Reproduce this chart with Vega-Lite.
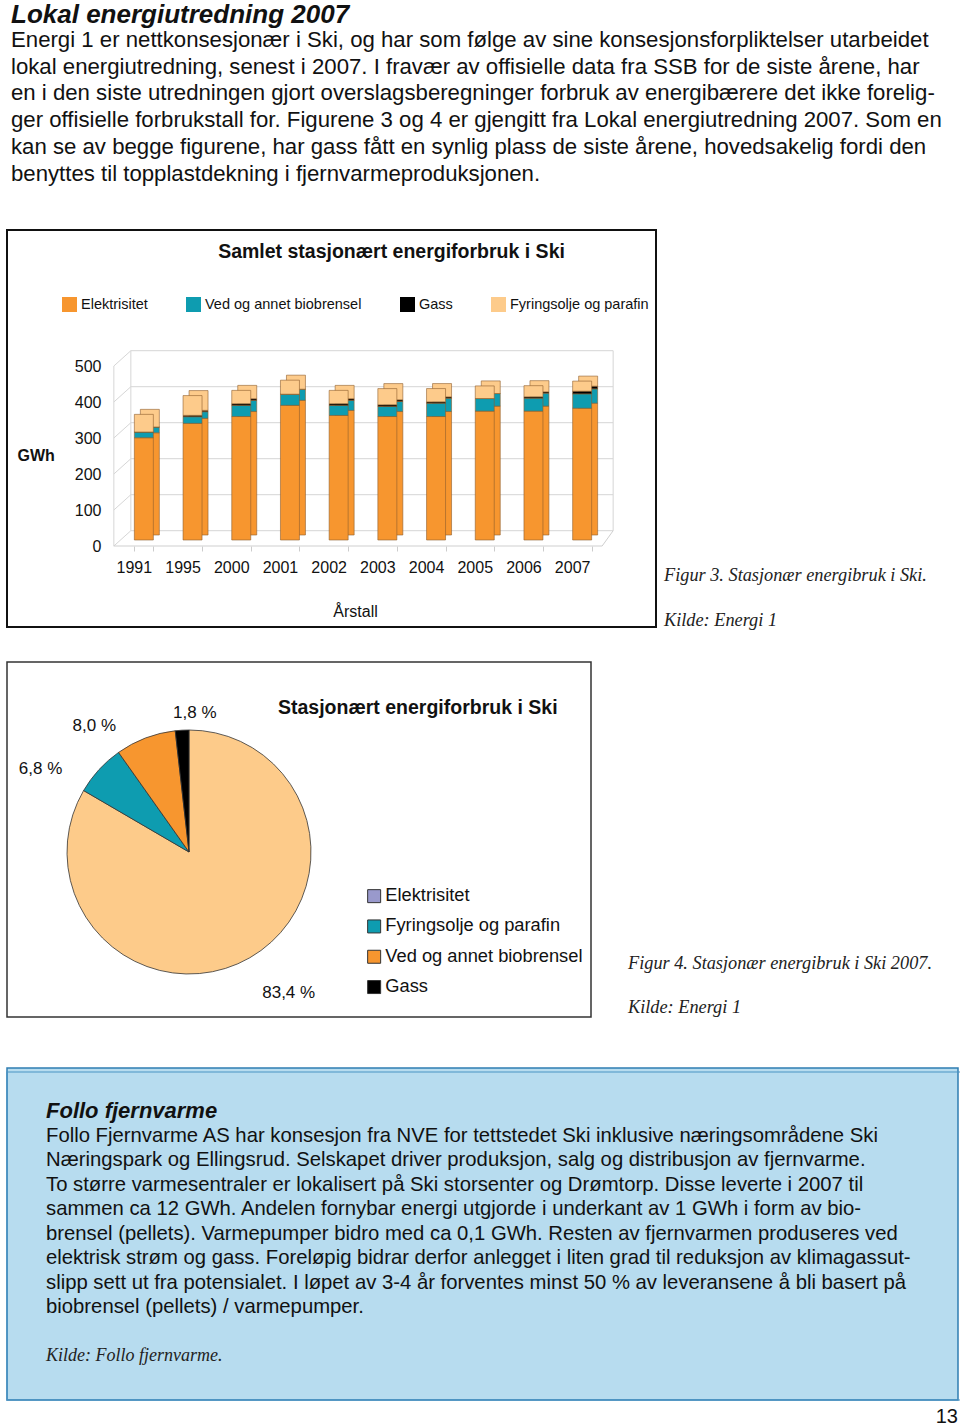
{
  "$schema": "https://vega.github.io/schema/vega-lite/v6.json",
  "background": "white",
  "padding": {"left": 5, "top": 1, "right": 0, "bottom": 0},
  "config": {"view": {"stroke": null}, "font": "Liberation Sans"},
  "resolve": {"scale": {"color": "independent", "fill": "independent"}, "legend": {"color": "independent", "fill": "independent"}},
  "title": {
    "text": "Lokal energiutredning 2007",
    "subtitle": [
      "Energi 1 er nettkonsesjonær i Ski, og har som følge av sine konsesjonsforpliktelser utarbeidet",
      "lokal energiutredning, senest i 2007. I fravær av offisielle data fra SSB for de siste årene, har",
      "en i den siste utredningen gjort overslagsberegninger forbruk av energibærere det ikke forelig-",
      "ger offisielle forbrukstall for. Figurene 3 og 4 er gjengitt fra Lokal energiutredning 2007. Som en",
      "kan se av begge figurene, har gass fått en synlig plass de siste årene, hovedsakelig fordi den",
      "benyttes til topplastdekning i fjernvarmeproduksjonen."
    ],
    "anchor": "start", "frame": "group", "dx": 4, "offset": 44,
    "font": "Liberation Sans", "fontSize": 26, "fontStyle": "italic", "fontWeight": "bold", "color": "#111",
    "subtitleFont": "Liberation Sans", "subtitleFontSize": 22.2, "subtitleColor": "#111",
    "subtitleLineHeight": 26.8, "subtitlePadding": 1
  },
  "datasets": {
    "energy": [
      {"year": "1991", "cat": "Elektrisitet", "k": 1, "v": 284},
      {"year": "1991", "cat": "Ved og annet biobrensel", "k": 2, "v": 16},
      {"year": "1991", "cat": "Gass", "k": 3, "v": 0},
      {"year": "1991", "cat": "Fyringsolje og parafin", "k": 4, "v": 49},
      {"year": "1995", "cat": "Elektrisitet", "k": 1, "v": 324},
      {"year": "1995", "cat": "Ved og annet biobrensel", "k": 2, "v": 18.5},
      {"year": "1995", "cat": "Gass", "k": 3, "v": 3.7},
      {"year": "1995", "cat": "Fyringsolje og parafin", "k": 4, "v": 55},
      {"year": "2000", "cat": "Elektrisitet", "k": 1, "v": 343},
      {"year": "2000", "cat": "Ved og annet biobrensel", "k": 2, "v": 31},
      {"year": "2000", "cat": "Gass", "k": 3, "v": 4.6},
      {"year": "2000", "cat": "Fyringsolje og parafin", "k": 4, "v": 37},
      {"year": "2001", "cat": "Elektrisitet", "k": 1, "v": 374},
      {"year": "2001", "cat": "Ved og annet biobrensel", "k": 2, "v": 31},
      {"year": "2001", "cat": "Gass", "k": 3, "v": 0},
      {"year": "2001", "cat": "Fyringsolje og parafin", "k": 4, "v": 39},
      {"year": "2002", "cat": "Elektrisitet", "k": 1, "v": 346},
      {"year": "2002", "cat": "Ved og annet biobrensel", "k": 2, "v": 28},
      {"year": "2002", "cat": "Gass", "k": 3, "v": 4.6},
      {"year": "2002", "cat": "Fyringsolje og parafin", "k": 4, "v": 37},
      {"year": "2003", "cat": "Elektrisitet", "k": 1, "v": 343},
      {"year": "2003", "cat": "Ved og annet biobrensel", "k": 2, "v": 28},
      {"year": "2003", "cat": "Gass", "k": 3, "v": 4.6},
      {"year": "2003", "cat": "Fyringsolje og parafin", "k": 4, "v": 45},
      {"year": "2004", "cat": "Elektrisitet", "k": 1, "v": 343},
      {"year": "2004", "cat": "Ved og annet biobrensel", "k": 2, "v": 37},
      {"year": "2004", "cat": "Gass", "k": 3, "v": 3.7},
      {"year": "2004", "cat": "Fyringsolje og parafin", "k": 4, "v": 37},
      {"year": "2005", "cat": "Elektrisitet", "k": 1, "v": 358},
      {"year": "2005", "cat": "Ved og annet biobrensel", "k": 2, "v": 35},
      {"year": "2005", "cat": "Gass", "k": 3, "v": 0},
      {"year": "2005", "cat": "Fyringsolje og parafin", "k": 4, "v": 35},
      {"year": "2006", "cat": "Elektrisitet", "k": 1, "v": 358},
      {"year": "2006", "cat": "Ved og annet biobrensel", "k": 2, "v": 36},
      {"year": "2006", "cat": "Gass", "k": 3, "v": 3.7},
      {"year": "2006", "cat": "Fyringsolje og parafin", "k": 4, "v": 31},
      {"year": "2007", "cat": "Elektrisitet", "k": 1, "v": 366},
      {"year": "2007", "cat": "Ved og annet biobrensel", "k": 2, "v": 40},
      {"year": "2007", "cat": "Gass", "k": 3, "v": 7.4},
      {"year": "2007", "cat": "Fyringsolje og parafin", "k": 4, "v": 28}
    ],
    "ticks": [{"v": 0}, {"v": 100}, {"v": 200}, {"v": 300}, {"v": 400}, {"v": 500}],
    "one": [{"n": 1}],
    "pie": [
      {"cat": "Elektrisitet", "pct": 83.4, "k": 1, "label": "83,4 %"},
      {"cat": "Fyringsolje og parafin", "pct": 6.8, "k": 2, "label": "6,8 %"},
      {"cat": "Ved og annet biobrensel", "pct": 8.0, "k": 3, "label": "8,0 %"},
      {"cat": "Gass", "pct": 1.8, "k": 4, "label": "1,8 %"}
    ],
    "pieLegend": [
      {"category": "Elektrisitet"},
      {"category": "Fyringsolje og parafin"},
      {"category": "Ved og annet biobrensel"},
      {"category": "Gass"}
    ]
  },
  "spacing": 31,
  "vconcat": [
    {
      "spacing": 7,
      "hconcat": [
        {
          "width": 649, "height": 397,
          "view": {"stroke": "#111", "strokeWidth": 2},
          "title": {"text": "Samlet stasjonært energiforbruk i Ski", "anchor": "middle", "frame": "group", "dx": 60, "offset": -32,
                    "fontSize": 19.5, "fontWeight": "bold", "font": "Liberation Sans", "color": "#111"},
          "resolve": {"axis": {"x": "independent", "y": "independent"}},
          "layer": [
            {"data": {"name": "energy"},
             "mark": {"type": "bar", "stroke": "#8e5e2e", "strokeWidth": 0.6, "opacity": 0},
             "encoding": {
               "x": {"field": "year", "type": "nominal",
                     "scale": {"range": [112.5, 599.5], "paddingInner": 0.61, "paddingOuter": 0.305},
                     "axis": {"orient": "bottom", "offset": -81, "title": "Årstall", "labelAngle": 0, "labelOffset": -10,
                              "labelFontSize": 16, "labelFont": "Liberation Sans", "labelColor": "#111", "labelPadding": 8,
                              "domain": false, "ticks": true, "tickBand": "extent", "tickSize": 5, "tickColor": "#cccccc", "tickOffset": -5,
                              "titleFontSize": 16, "titleFont": "Liberation Sans", "titleFontWeight": "normal", "titleColor": "#111",
                              "titlePadding": 28, "titleX": 348, "grid": false}},
               "y": {"field": "v", "type": "quantitative", "stack": "zero",
                     "scale": {"domain": [0, 500], "range": [310, 130], "nice": false},
                     "axis": {"orient": "left", "offset": -107, "values": [0, 100, 200, 300, 400, 500], "labelOffset": 6,
                              "ticks": false, "domain": false, "grid": false, "labelPadding": 13,
                              "labelFontSize": 16, "labelFont": "Liberation Sans", "labelColor": "#111",
                              "title": "GWh", "titleAngle": 0, "titleFontSize": 16, "titleFontWeight": "bold", "titleColor": "#111",
                              "titleX": -97, "titleY": 225, "titleAlign": "left", "titleBaseline": "middle"}},
               "color": {"field": "cat", "type": "nominal",
                         "scale": {"domain": ["Elektrisitet", "Ved og annet biobrensel", "Gass", "Fyringsolje og parafin"],
                                   "range": ["#F7962F", "#0E9CB0", "#000000", "#FDCB8B"]},
                         "legend": {"orient": "none", "legendX": 55, "legendY": 67, "direction": "horizontal", "title": null,
                                    "symbolType": "square", "symbolSize": 225, "symbolStrokeWidth": 0, "symbolOpacity": 1,
                                    "labelFontSize": 14.5, "labelFont": "Liberation Sans", "labelColor": "#111",
                                    "columnPadding": 38, "labelOffset": 4, "labelLimit": 300}},
               "order": {"field": "k", "type": "quantitative"}}},
            {"data": {"name": "ticks"},
             "mark": {"type": "rule", "color": "#d6d6d6", "strokeWidth": 1, "xOffset": -13, "x2Offset": 31, "yOffset": -9.3},
             "encoding": {"x": {"datum": "1991", "type": "nominal", "axis": null}, "x2": {"datum": "2007"},
                          "y": {"field": "v", "type": "quantitative", "axis": null}}},
            {"data": {"name": "ticks"},
             "mark": {"type": "rule", "color": "#d6d6d6", "strokeWidth": 1, "xOffset": -30, "x2Offset": -13, "yOffset": 6, "y2Offset": -9.3},
             "encoding": {"x": {"datum": "1991", "type": "nominal", "axis": null}, "x2": {"datum": "1991"},
                          "y": {"field": "v", "type": "quantitative", "axis": null}, "y2": {"field": "v"}}},
            {"data": {"name": "one"},
             "mark": {"type": "rule", "color": "#d6d6d6", "strokeWidth": 1, "xOffset": -30, "yOffset": 6, "y2Offset": 6},
             "encoding": {"x": {"datum": "1991", "type": "nominal", "axis": null},
                          "y": {"datum": 0, "type": "quantitative", "axis": null}, "y2": {"datum": 500}}},
            {"data": {"name": "one"},
             "mark": {"type": "rule", "color": "#d6d6d6", "strokeWidth": 1, "xOffset": -13, "yOffset": -9.3, "y2Offset": -9.3},
             "encoding": {"x": {"datum": "1991", "type": "nominal", "axis": null},
                          "y": {"datum": 0, "type": "quantitative", "axis": null}, "y2": {"datum": 500}}},
            {"data": {"name": "one"},
             "mark": {"type": "rule", "color": "#d6d6d6", "strokeWidth": 1, "xOffset": 31, "yOffset": -9.3, "y2Offset": -9.3},
             "encoding": {"x": {"datum": "2007", "type": "nominal", "axis": null},
                          "y": {"datum": 0, "type": "quantitative", "axis": null}, "y2": {"datum": 500}}},
            {"data": {"name": "one"},
             "mark": {"type": "rule", "color": "#cfcfcf", "strokeWidth": 1, "xOffset": -30, "x2Offset": 20, "yOffset": 6},
             "encoding": {"x": {"datum": "1991", "type": "nominal", "axis": null}, "x2": {"datum": "2007"},
                          "y": {"datum": 0, "type": "quantitative", "axis": null}}},
            {"data": {"name": "one"},
             "mark": {"type": "rule", "color": "#cfcfcf", "strokeWidth": 1, "xOffset": 20, "x2Offset": 31, "yOffset": 6, "y2Offset": -9.3},
             "encoding": {"x": {"datum": "2007", "type": "nominal", "axis": null}, "x2": {"datum": "2007"},
                          "y": {"datum": 0, "type": "quantitative", "axis": null}, "y2": {"datum": 0}}},
            {"data": {"name": "energy"},
             "mark": {"type": "bar", "xOffset": 6, "x2Offset": 6, "yOffset": -5, "y2Offset": -5, "stroke": "#8e5e2e", "strokeWidth": 0.6},
             "encoding": {
               "x": {"field": "year", "type": "nominal", "axis": null},
               "y": {"field": "v", "type": "quantitative", "stack": "zero", "axis": null},
               "color": {"field": "cat", "type": "nominal", "legend": null},
               "order": {"field": "k", "type": "quantitative"}}},
            {"data": {"name": "energy"},
             "mark": {"type": "bar", "stroke": "#8e5e2e", "strokeWidth": 0.6},
             "encoding": {
               "x": {"field": "year", "type": "nominal", "axis": null},
               "y": {"field": "v", "type": "quantitative", "stack": "zero", "axis": null},
               "color": {"field": "cat", "type": "nominal", "legend": null},
               "order": {"field": "k", "type": "quantitative"}}}
          ]
        },
        {
          "width": 295, "height": 397,
          "data": {"values": [{"line": 0, "t": "Figur 3. Stasjonær energibruk i Ski."}, {"line": 1, "t": "Kilde: Energi 1"}]},
          "mark": {"type": "text", "align": "left", "baseline": "middle", "font": "Liberation Serif", "fontStyle": "italic", "fontSize": 18.3, "color": "#222"},
          "encoding": {
            "x": {"datum": 0, "type": "quantitative", "scale": {"domain": [0, 1]}, "axis": null},
            "y": {"field": "line", "type": "quantitative", "scale": {"domain": [0, 1], "range": [346, 391]}, "axis": null},
            "text": {"field": "t"}}
        }
      ]
    },
    {
      "spacing": 36,
      "hconcat": [
        {
          "width": 584, "height": 355,
          "view": {"stroke": "#333", "strokeWidth": 1.5},
          "title": {"text": "Stasjonært energiforbruk i Ski", "anchor": "start", "frame": "group", "dx": 271, "offset": -56,
                    "fontSize": 19.5, "fontWeight": "bold", "color": "#111", "font": "Liberation Sans"},
          "layer": [
            {"data": {"name": "pie"},
             "mark": {"type": "arc", "radius": 122, "xOffset": -110, "yOffset": 12.5, "stroke": "#333", "strokeWidth": 0.8},
             "encoding": {
               "theta": {"field": "pct", "type": "quantitative", "stack": true},
               "color": {"field": "cat", "type": "nominal",
                         "scale": {"domain": ["Elektrisitet", "Fyringsolje og parafin", "Ved og annet biobrensel", "Gass"],
                                   "range": ["#FDCB8A", "#0E9CB0", "#F7962F", "#000000"]},
                         "legend": null},
               "order": {"field": "k", "type": "quantitative"}}},
            {"data": {"name": "pie"},
             "mark": {"type": "text", "radius": 162, "xOffset": -110, "yOffset": 12.5, "dx": 19, "dy": 1, "fontSize": 17, "font": "Liberation Sans", "color": "#111"},
             "encoding": {
               "theta": {"field": "pct", "type": "quantitative", "stack": true},
               "detail": {"field": "cat", "type": "nominal"},
               "order": {"field": "k", "type": "quantitative"},
               "text": {"condition": {"test": "datum.k === 1", "field": "label"}, "value": ""}}},
            {"data": {"name": "pie"},
             "mark": {"type": "text", "radius": 162, "xOffset": -110, "yOffset": 12.5, "dx": -29, "dy": 26, "fontSize": 17, "font": "Liberation Sans", "color": "#111"},
             "encoding": {
               "theta": {"field": "pct", "type": "quantitative", "stack": true},
               "detail": {"field": "cat", "type": "nominal"},
               "order": {"field": "k", "type": "quantitative"},
               "text": {"condition": {"test": "datum.k === 2", "field": "label"}, "value": ""}}},
            {"data": {"name": "pie"},
             "mark": {"type": "text", "radius": 162, "xOffset": -110, "yOffset": 12.5, "dx": -37, "dy": 25, "fontSize": 17, "font": "Liberation Sans", "color": "#111"},
             "encoding": {
               "theta": {"field": "pct", "type": "quantitative", "stack": true},
               "detail": {"field": "cat", "type": "nominal"},
               "order": {"field": "k", "type": "quantitative"},
               "text": {"condition": {"test": "datum.k === 3", "field": "label"}, "value": ""}}},
            {"data": {"name": "pie"},
             "mark": {"type": "text", "radius": 162, "xOffset": -110, "yOffset": 12.5, "dx": 15, "dy": 23, "fontSize": 17, "font": "Liberation Sans", "color": "#111"},
             "encoding": {
               "theta": {"field": "pct", "type": "quantitative", "stack": true},
               "detail": {"field": "cat", "type": "nominal"},
               "order": {"field": "k", "type": "quantitative"},
               "text": {"condition": {"test": "datum.k === 4", "field": "label"}, "value": ""}}},
            {"data": {"name": "pieLegend"},
             "mark": {"type": "square", "size": 0, "opacity": 1},
             "encoding": {
               "fill": {"field": "category", "type": "nominal", "sort": null,
                        "scale": {"range": ["#9999CC", "#0E9CB0", "#F7962F", "#000000"]},
                        "legend": {"orient": "none", "legendX": 358, "legendY": 225, "direction": "vertical", "title": null,
                                   "symbolType": "square", "symbolSize": 169, "symbolStrokeColor": "#333", "symbolStrokeWidth": 1, "symbolOpacity": 1,
                                   "labelFontSize": 18.3, "labelFont": "Liberation Sans", "labelColor": "#111",
                                   "rowPadding": 11.3, "labelOffset": 2, "labelLimit": 300}}}}
          ]
        },
        {
          "width": 330, "height": 374,
          "data": {"values": [{"line": 0, "t": "Figur 4. Stasjonær energibruk i Ski 2007."}, {"line": 1, "t": "Kilde: Energi 1"}]},
          "mark": {"type": "text", "align": "left", "baseline": "middle", "font": "Liberation Serif", "fontStyle": "italic", "fontSize": 18.3, "color": "#222"},
          "encoding": {
            "x": {"datum": 0, "type": "quantitative", "scale": {"domain": [0, 1]}, "axis": null},
            "y": {"field": "line", "type": "quantitative", "scale": {"domain": [0, 1], "range": [302, 346]}, "axis": null},
            "text": {"field": "t"}}
        }
      ]
    },
    {
      "spacing": 4,
      "vconcat": [
        {
          "width": 951, "height": 332,
          "view": {"fill": "#B7DCEF", "stroke": "#2F7DB3", "strokeWidth": 1.5},
          "layer": [
            {"data": {"name": "one"},
             "mark": {"type": "rect", "fill": "transparent", "stroke": "#4A93C4", "strokeWidth": 1.2, "xOffset": 4, "x2Offset": -4, "yOffset": 4, "y2Offset": -4},
             "encoding": {}},
            {"data": {"values": [{"line": 0, "t": "Follo fjernvarme"}]},
             "mark": {"type": "text", "align": "left", "baseline": "middle", "dx": 39, "font": "Liberation Sans", "fontStyle": "italic", "fontWeight": "bold", "fontSize": 22, "color": "#111"},
             "encoding": {
               "x": {"datum": 0, "type": "quantitative", "scale": {"domain": [0, 1]}, "axis": null},
               "y": {"field": "line", "type": "quantitative", "scale": {"domain": [0, 10], "range": [43, 288]}, "axis": null},
               "text": {"field": "t"}}},
            {"data": {"values": [
               {"line": 1, "t": "Follo Fjernvarme AS har konsesjon fra NVE for tettstedet Ski inklusive næringsområdene Ski"},
               {"line": 2, "t": "Næringspark og Ellingsrud. Selskapet driver produksjon, salg og distribusjon av fjernvarme."},
               {"line": 3, "t": "To større varmesentraler er lokalisert på Ski storsenter og Drømtorp. Disse leverte i 2007 til"},
               {"line": 4, "t": "sammen ca 12 GWh. Andelen fornybar energi utgjorde i underkant av 1 GWh i form av bio-"},
               {"line": 5, "t": "brensel (pellets). Varmepumper bidro med ca 0,1 GWh. Resten av fjernvarmen produseres ved"},
               {"line": 6, "t": "elektrisk strøm og gass. Foreløpig bidrar derfor anlegget i liten grad til reduksjon av klimagassut-"},
               {"line": 7, "t": "slipp sett ut fra potensialet. I løpet av 3-4 år forventes minst 50 % av leveransene å bli basert på"},
               {"line": 8, "t": "biobrensel (pellets) / varmepumper."}]},
             "mark": {"type": "text", "align": "left", "baseline": "middle", "dx": 39, "font": "Liberation Sans", "fontSize": 20.3, "color": "#111"},
             "encoding": {
               "x": {"datum": 0, "type": "quantitative", "axis": null},
               "y": {"field": "line", "type": "quantitative", "axis": null},
               "text": {"field": "t"}}},
            {"data": {"values": [{"line": 10, "t": "Kilde: Follo fjernvarme."}]},
             "mark": {"type": "text", "align": "left", "baseline": "middle", "dx": 39, "font": "Liberation Serif", "fontStyle": "italic", "fontSize": 18, "color": "#222"},
             "encoding": {
               "x": {"datum": 0, "type": "quantitative", "axis": null},
               "y": {"field": "line", "type": "quantitative", "axis": null},
               "text": {"field": "t"}}}
          ]
        },
        {
          "width": 951, "height": 20,
          "data": {"values": [{"t": "13"}]},
          "mark": {"type": "text", "align": "right", "baseline": "middle", "dy": 1, "fontSize": 20, "font": "Liberation Sans", "color": "#111"},
          "encoding": {
            "x": {"datum": 1, "type": "quantitative", "scale": {"domain": [0, 1]}, "axis": null},
            "text": {"field": "t"}}
        }
      ]
    }
  ]
}
